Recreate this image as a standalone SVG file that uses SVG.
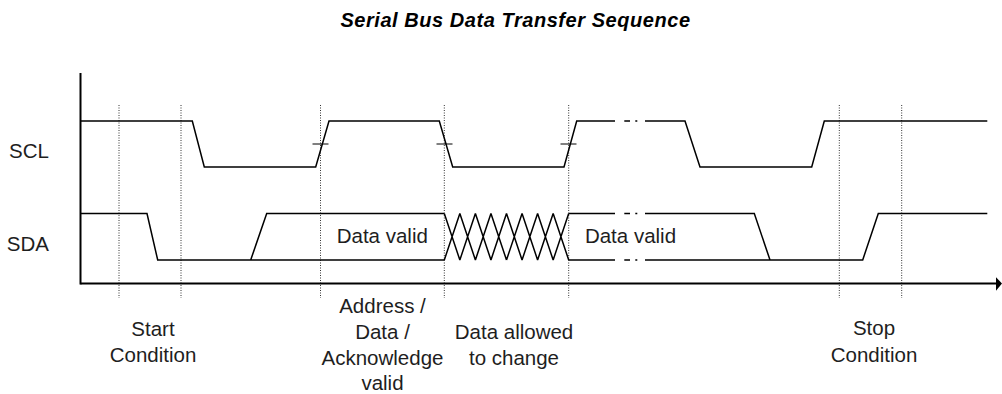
<svg xmlns="http://www.w3.org/2000/svg" width="1002" height="394" viewBox="0 0 1002 394">
<style>
.t{font-family:"Liberation Sans",Arial,sans-serif;font-size:20.5px;fill:#1e1e1e;text-anchor:middle}
.title{font-family:"Liberation Sans",Arial,sans-serif;font-size:20px;font-weight:bold;font-style:italic;fill:#000;text-anchor:middle;letter-spacing:0.55px}
.sig{fill:none;stroke:#000;stroke-width:1.5;stroke-linejoin:miter}
.dot{fill:none;stroke:#333;stroke-width:1;stroke-dasharray:1 1.5}
.ax{fill:none;stroke:#000;stroke-width:2}
.tick{fill:none;stroke:#000;stroke-width:1}
</style>
<rect width="1002" height="394" fill="#fff"/>
<text class="title" x="515.5" y="26.7">Serial Bus Data Transfer Sequence</text>

<g id="guides">
<path class="dot" d="M119,105V298M181,105V298M320.5,105V298M444.3,105V298M568.7,105V298M839.3,105V298M901.7,105V298"/>
</g>

<g id="axes">
<path class="ax" d="M80.5,73V284.5" stroke-width="1.6"/>
<path class="ax" d="M80.5,283.5H997"/>
<polygon points="996,277.3 1002,283.5 996,290.7" fill="#000"/>
</g>

<g id="scl">
<text class="t" x="49" y="157.7" style="text-anchor:end">SCL</text>
<path class="sig" d="M81,121H192.3L204.3,167H315.7L329,121H439.3L452.7,167H564L576.7,121H615M624.3,121H630M635.3,121H637.3M645,121H685L700,167H811.7L824.3,121H987.3"/>
<path class="tick" d="M312.5,144H328.5M436.5,144H452.5M560.5,144H576.5"/>
</g>

<g id="sda">
<text class="t" x="49" y="250.7" style="text-anchor:end">SDA</text>
<path class="sig" d="M81,213.5H147L157.7,260H444.3M250.7,260L266.7,213.5H444.3"/>
<path class="sig" stroke-width="1.3" d="M444.3,213.5L459.85,260M444.3,260L459.85,213.5M459.85,213.5L475.4,260M459.85,260L475.4,213.5M475.4,213.5L490.95,260M475.4,260L490.95,213.5M490.95,213.5L506.5,260M490.95,260L506.5,213.5M506.5,213.5L522.05,260M506.5,260L522.05,213.5M522.05,213.5L537.6,260M522.05,260L537.6,213.5M537.6,213.5L553.15,260M537.6,260L553.15,213.5M553.15,213.5L568.7,260M553.15,260L568.7,213.5"/>
<path class="sig" d="M568.7,213.5H615M624.3,213.5H630M635.3,213.5H637.3M645,213.5H754.3L770,260M568.7,260H615M624.3,260H630M635.3,260H637.3M645,260H862.7L878.3,213.5H987.3"/>
<text class="t" x="382.3" y="243">Data valid</text>
<text class="t" x="630.5" y="243">Data valid</text>
</g>

<g id="label-start">
<text class="t" x="153" y="336">Start</text>
<text class="t" x="153" y="361.7">Condition</text>
</g>
<g id="label-valid">
<text class="t" x="382.5" y="313.3">Address /</text>
<text class="t" x="382.5" y="339.3">Data /</text>
<text class="t" x="382.5" y="365">Acknowledge</text>
<text class="t" x="382.5" y="390">valid</text>
</g>
<g id="label-change">
<text class="t" x="514" y="339.3">Data allowed</text>
<text class="t" x="514" y="365">to change</text>
</g>
<g id="label-stop">
<text class="t" x="874" y="335">Stop</text>
<text class="t" x="874" y="361.7">Condition</text>
</g>
</svg>
